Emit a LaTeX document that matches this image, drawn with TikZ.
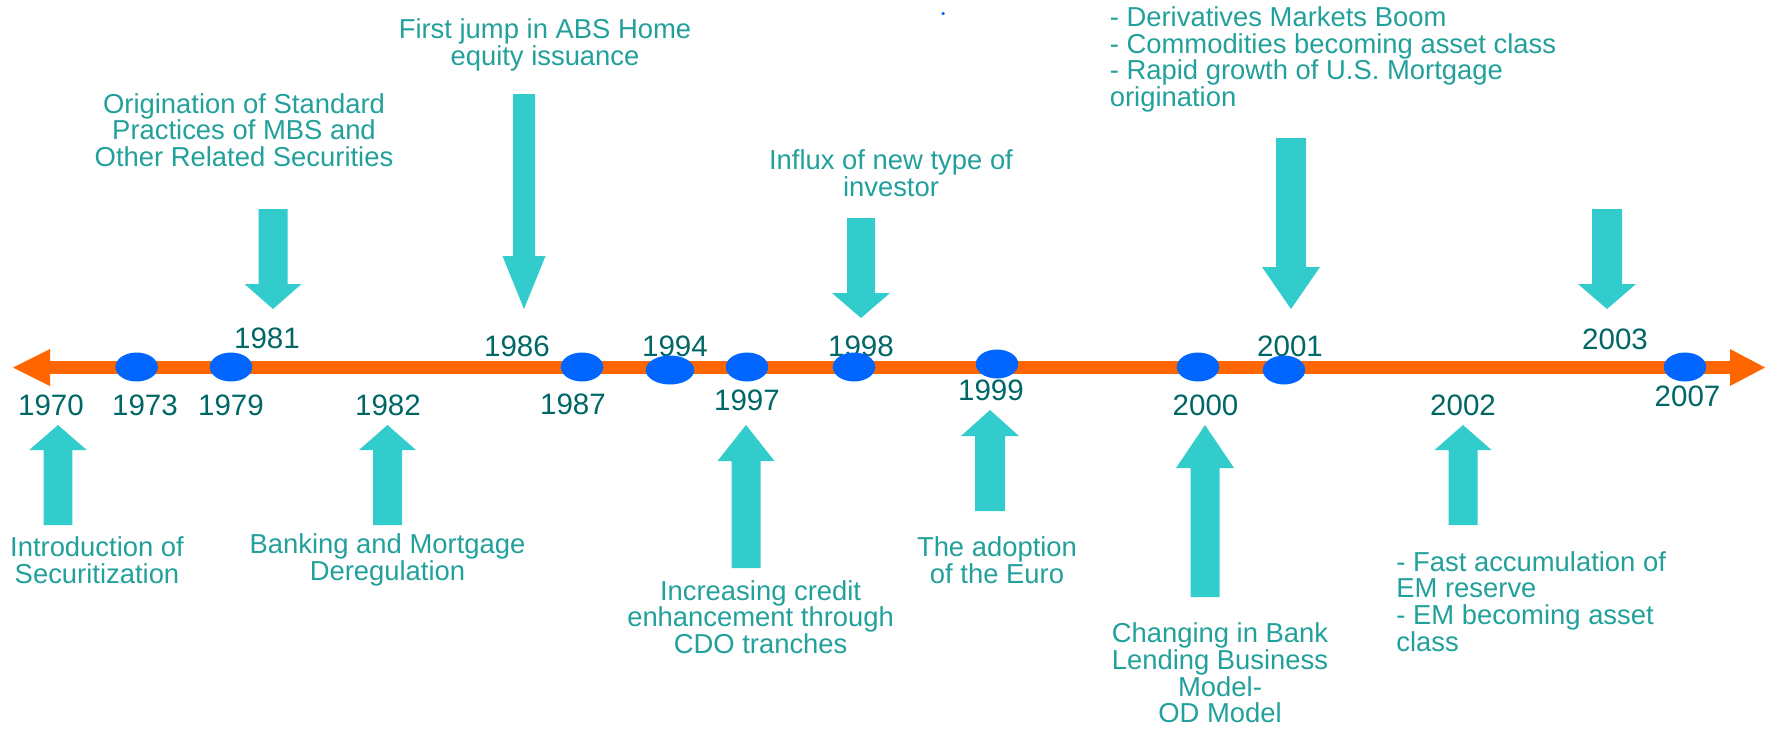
\documentclass[tikz,border=0pt]{standalone}
\usepackage{fontspec}
\setmainfont{Liberation Sans}
\definecolor{ffwwqq}{rgb}{1.,0.4,0.}
\definecolor{qqwwff}{rgb}{0.,0.4,1.}
\definecolor{ttcccc}{rgb}{0.2,0.8,0.8}
\definecolor{qqwwww}{rgb}{0.,0.4,0.4}
\definecolor{ssaqzb}{rgb}{0.133,0.627,0.608}
% block arrow: x, tail y, head base y, tip y, shaft half width, head half width
\newcommand{\blockarrow}[6]{\fill[color=ttcccc] (#1-#5,#2) -- (#1-#5,#3) -- (#1-#6,#3) -- (#1,#4) -- (#1+#6,#3) -- (#1+#5,#3) -- (#1+#5,#2) -- cycle;}

\begin{document}
\begin{tikzpicture}[line cap=round,line join=round,x=0.02cm,y=-0.02cm,
  yr/.style={color=qqwwww,inner sep=0pt,font=\fontsize{16.8}{18}\selectfont},
  txt/.style={color=ssaqzb,inner sep=0pt,align=center,font=\fontsize{15.6}{15.2}\selectfont},
  txtl/.style={txt,align=left,anchor=west}]
\useasboundingbox (0,0) rectangle (1769,731);
% years
\draw (51,405) node[yr] (y1970) {1970};
\draw (145,405) node[yr] (y1973) {1973};
\draw (231,405) node[yr] (y1979) {1979};
\draw (267,338) node[yr] (y1981) {1981};
\draw (388,405) node[yr] (y1982) {1982};
\draw (517,346) node[yr] (y1986) {1986};
\draw (573,404) node[yr] (y1987) {1987};
\draw (675,346) node[yr] (y1994) {1994};
\draw (747,400) node[yr] (y1997) {1997};
\draw (861,346) node[yr] (y1998) {1998};
\draw (991,390) node[yr] (y1999) {1999};
\draw (1205.5,405) node[yr] (y2000) {2000};
\draw (1290,346) node[yr] (y2001) {2001};
\draw (1463,405) node[yr] (y2002) {2002};
\draw (1615,339) node[yr] (y2003) {2003};
\draw (1687.5,396) node[yr] (y2007) {2007};
% time axis
\fill[color=ffwwqq] (50,361) rectangle (1730,374);
\fill[color=ffwwqq] (13,367.5) -- (50,349) -- (50,386) -- cycle;
\fill[color=ffwwqq] (1765,367.5) -- (1730,349) -- (1730,386) -- cycle;
\fill[color=qqwwff] (136.6,367) ellipse (0.425cm and 0.29cm);
\fill[color=qqwwff] (231,367) ellipse (0.425cm and 0.29cm);
\fill[color=qqwwff] (582,367) ellipse (0.425cm and 0.29cm);
\fill[color=qqwwff] (670,370) ellipse (0.486cm and 0.29cm);
\fill[color=qqwwff] (747,367) ellipse (0.425cm and 0.29cm);
\fill[color=qqwwff] (854,367) ellipse (0.425cm and 0.29cm);
\fill[color=qqwwff] (997,364) ellipse (0.425cm and 0.29cm);
\fill[color=qqwwff] (1198,367) ellipse (0.425cm and 0.29cm);
\fill[color=qqwwff] (1284,370) ellipse (0.425cm and 0.29cm);
\fill[color=qqwwff] (1685,367) ellipse (0.425cm and 0.29cm);
\fill[color=qqwwff] (943,13.5) circle (1pt);
% arrows below the axis
\blockarrow{58}{525}{450}{425}{14.3}{28.7}
\blockarrow{387.5}{525}{450}{425}{14.5}{28.5}
\blockarrow{746}{568}{461}{425}{14.5}{28.5}
\blockarrow{990}{511}{436}{410}{15}{29}
\blockarrow{1205}{597}{468}{425}{14.5}{29}
\blockarrow{1463}{525}{450}{425}{14.5}{28.5}
% arrows above the axis
\blockarrow{273}{209}{284}{309}{14.5}{28.5}
\blockarrow{524}{94}{256}{309}{11}{21.5}
\blockarrow{861}{218}{293}{318}{14}{29}
\blockarrow{1291}{138}{267}{309}{15}{29}
\blockarrow{1607}{209}{284}{309}{15}{29}
% events
\draw (244,130) node[txt] (origination) {Origination of Standard\\Practices of MBS and\\Other Related Securities};
\draw (545,45) node[txt] (jump) {First jump in ABS Home\\equity issuance};
\draw (891,173) node[txt] (influx) {Influx of new type of\\investor};
\draw (1109.5,59.5) node[txtl] (derivatives) {- Derivatives Markets Boom\\- Commodities becoming asset class\\- Rapid growth of U.S. Mortgage\\origination};
\draw (97,560) node[txt] (intro) {Introduction of\\Securitization};
\draw (387.5,560) node[txt] (banking) {Banking and Mortgage\\Deregulation};
\draw (760.6,617) node[txt] (credit) {Increasing credit\\enhancement through\\CDO tranches};
\draw (997,560) node[txt] (euro) {The adoption\\of the Euro};
\draw (1220,673) node[txt] (lending) {Changing in Bank\\Lending Business\\Model-\\OD Model};
\draw (1396,601.5) node[txtl] (reserve) {- Fast accumulation of\\EM reserve\\- EM becoming asset\\class};
\end{tikzpicture}
\end{document}
